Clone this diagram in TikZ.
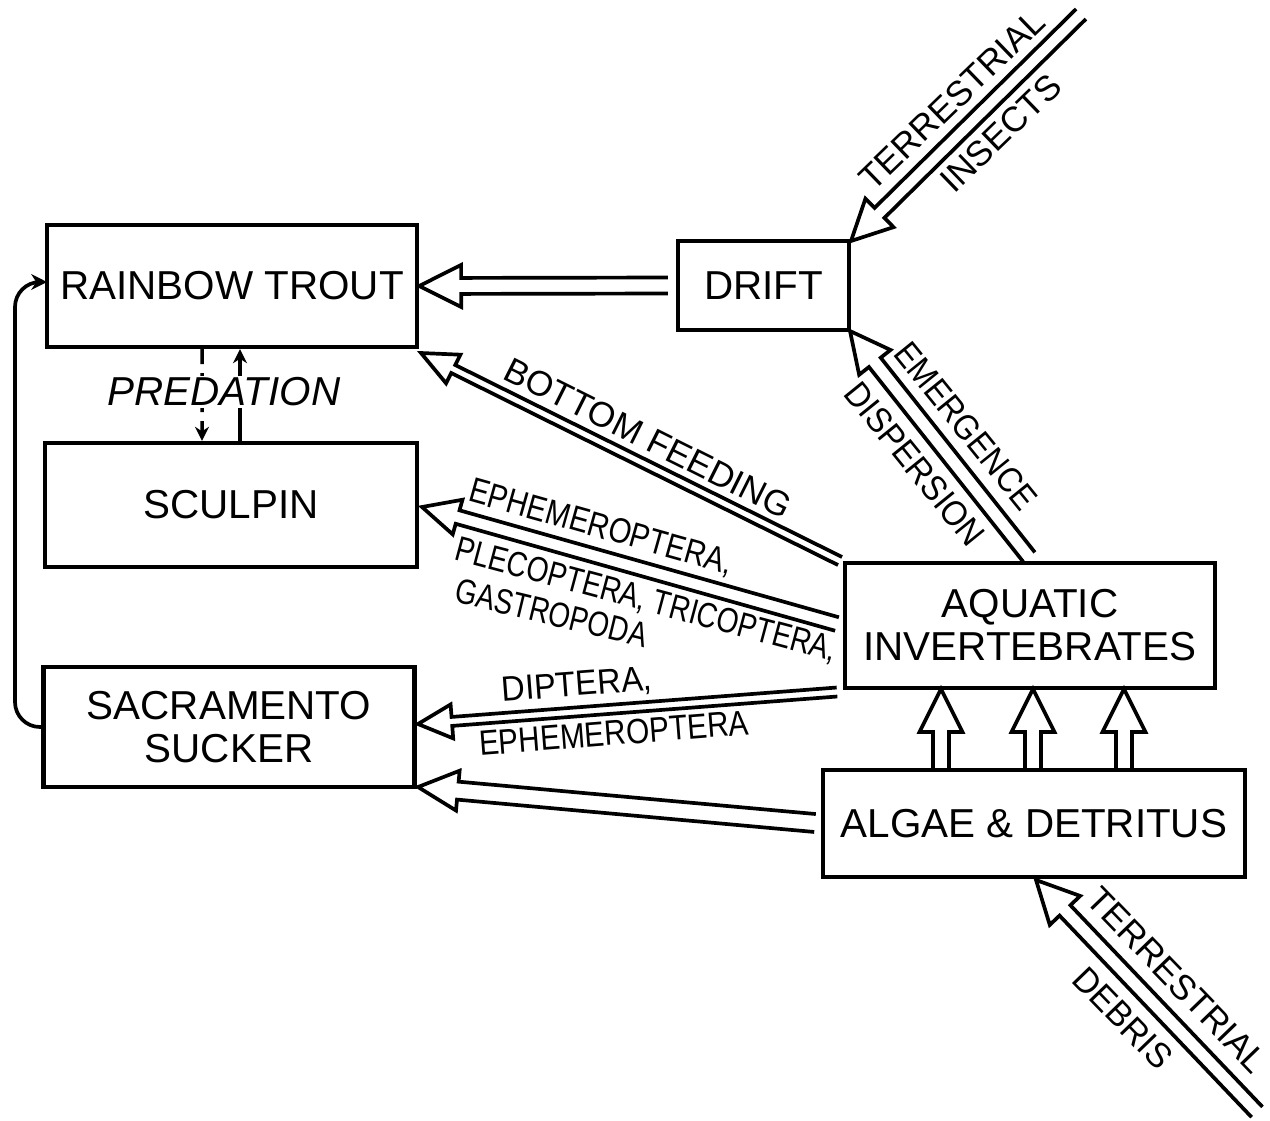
\documentclass[tikz,border=0pt]{standalone}
\usepackage{fontspec}
\setmainfont{Liberation Sans}
\usetikzlibrary{calc,arrows.meta}
\newcommand\boxfont{\fontsize{23}{24.4}\selectfont}
\newcommand\labfont{\fontsize{20}{22}\selectfont}
% hollow double-line arrow: tail, tip, half gap, head length, head half width
\newcommand\harrow[5]{%
  \draw[flowline] let \p1=($(#2)-(#1)$), \n1={atan2(\y1,\x1)} in
    ($(#1)+(\n1+90:#3)$) -- ($(#2)+(\n1+180:#4)+(\n1+90:#3)$)
    -- ($(#2)+(\n1+180:#4)+(\n1+90:#5)$) -- (#2)
    -- ($(#2)+(\n1+180:#4)+(\n1-90:#5)$) -- ($(#2)+(\n1+180:#4)+(\n1-90:#3)$)
    -- ($(#1)+(\n1-90:#3)$);}
\begin{document}
\begin{tikzpicture}[x=0.02cm,y=-0.02cm,
  box/.style={draw, line width=2.5pt, inner sep=0pt, font=\boxfont, align=center},
  flowline/.style={line width=2.1pt, line join=miter, line cap=butt},
  lab/.style={font=\labfont, inner sep=0pt},
  predline/.style={line width=2pt},
  loopline/.style={line width=2.1pt}]
\useasboundingbox (0,0) rectangle (1270,1120);

% boxes
\node[box, minimum width=7.4cm, minimum height=2.44cm] (rt) at (232,286) {RAINBOW TROUT};
\node[box, minimum width=7.44cm, minimum height=2.48cm] (sc) at (231,505) {SCULPIN};
\node[box, minimum width=7.42cm, minimum height=2.4cm] (ss) at (229,727) {SACRAMENTO\\SUCKER};
\node[box, minimum width=3.42cm, minimum height=1.78cm] (dr) at (763.5,285.5) {DRIFT};
\node[box, minimum width=7.4cm, minimum height=2.5cm] (ai) at (1030,625.5) {AQUATIC\\INVERTEBRATES};
\node[box, minimum width=8.44cm, minimum height=2.14cm] (ad) at (1034,823.5) {ALGAE \& DETRITUS};

% arrow end points
\coordinate (drT) at ([xshift=-0.16cm]dr.west);
\coordinate (bfT) at (840,561);  \coordinate (bfH) at (421,353);
\coordinate (epT) at (837,624);  \coordinate (epH) at (422,507);
\coordinate (dpT) at (837,692);  \coordinate (dpH) at (418,724);
\coordinate (agT) at (815,823);  \coordinate (agH) at (418,787);
\coordinate (u1T) at (941,770);  \coordinate (u1H) at (941,689);
\coordinate (u2T) at (1033,770); \coordinate (u2H) at (1033,689);
\coordinate (u3T) at (1124,770); \coordinate (u3H) at (1124,689);
\coordinate (inT) at (1081,14);  \coordinate (inH) at (851,241);
\coordinate (emT) at (1029,557); \coordinate (emH) at (850,331);
\coordinate (deT) at (1257,1112);\coordinate (deH) at (1036,880);
\coordinate (lpE) at (47,282);

% hollow arrows
\harrow{drT}{rt.east}{0.16cm}{0.84cm}{0.42cm}
\harrow{bfT}{bfH}{0.09cm}{0.72cm}{0.32cm}
\harrow{epT}{epH}{0.14cm}{0.74cm}{0.36cm}
\harrow{dpT}{dpH}{0.09cm}{0.68cm}{0.34cm}
\harrow{agT}{agH}{0.18cm}{0.8cm}{0.4cm}
\harrow{u1T}{u1H}{0.16cm}{0.86cm}{0.43cm}
\harrow{u2T}{u2H}{0.16cm}{0.86cm}{0.43cm}
\harrow{u3T}{u3H}{0.16cm}{0.86cm}{0.43cm}
\harrow{inT}{inH}{0.14cm}{0.8cm}{0.4cm}
\harrow{emT}{emH}{0.15cm}{0.8cm}{0.4cm}
\harrow{deT}{deH}{0.15cm}{0.84cm}{0.42cm}

% loop from sucker to trout
\draw[loopline, rounded corners=0.5cm, -{Stealth[length=9pt,width=9pt]}]
  (ss.west) -- (15,727) -- (15,282) -- (lpE);

% predation
\draw[predline, dash pattern=on 0.3cm off 0.18cm, -{Stealth[length=8pt,width=8pt]}]
  ([xshift=-0.6cm]rt.south) -- ([xshift=-0.58cm]sc.north);
\draw[predline, -{Stealth[length=8pt,width=8pt]}]
  ([xshift=0.18cm]sc.north) -- ([xshift=0.16cm]rt.south);
\node[fill=white, inner sep=1pt, font=\boxfont\itshape] (pred) at (224,392) {PREDATION};

% labels
\node[lab, rotate=-26.6] (lbf) at (648,438) {BOTTOM FEEDING};
\node[lab, rotate=-15.7] (lep) at (601,528) {\scalebox{0.83}[1]{EPHEMEROPTERA,}};
\node[lab, rotate=-15] (lpl) at (646,601) {\scalebox{0.8}[1]{PLECOPTERA, TRICOPTERA,}};
\node[lab, rotate=-13.6] (lga) at (552,613) {\scalebox{0.79}[1]{GASTROPODA}};
\node[lab, rotate=4.4] (ldp) at (577,686) {\scalebox{0.93}[1]{DIPTERA,}};
\node[lab, rotate=4.5] (le2) at (614,733) {\scalebox{0.85}[1]{EPHEMEROPTERA}};
\node[lab, rotate=44] (lti) at (952,100) {TERRESTRIAL};
\node[lab, rotate=44] (lin) at (1001,133) {INSECTS};
\node[lab, rotate=-51] (lem) at (966,426) {\scalebox{0.9}[1]{EMERGENCE}};
\node[lab, rotate=-51] (ldi) at (915,464) {\scalebox{0.92}[1]{DISPERSION}};
\node[lab, rotate=-46] (ltd) at (1177,980) {TERRESTRIAL};
\node[lab, rotate=-46] (lde) at (1123,1018) {\scalebox{0.96}[1]{DEBRIS}};
\end{tikzpicture}
\end{document}
